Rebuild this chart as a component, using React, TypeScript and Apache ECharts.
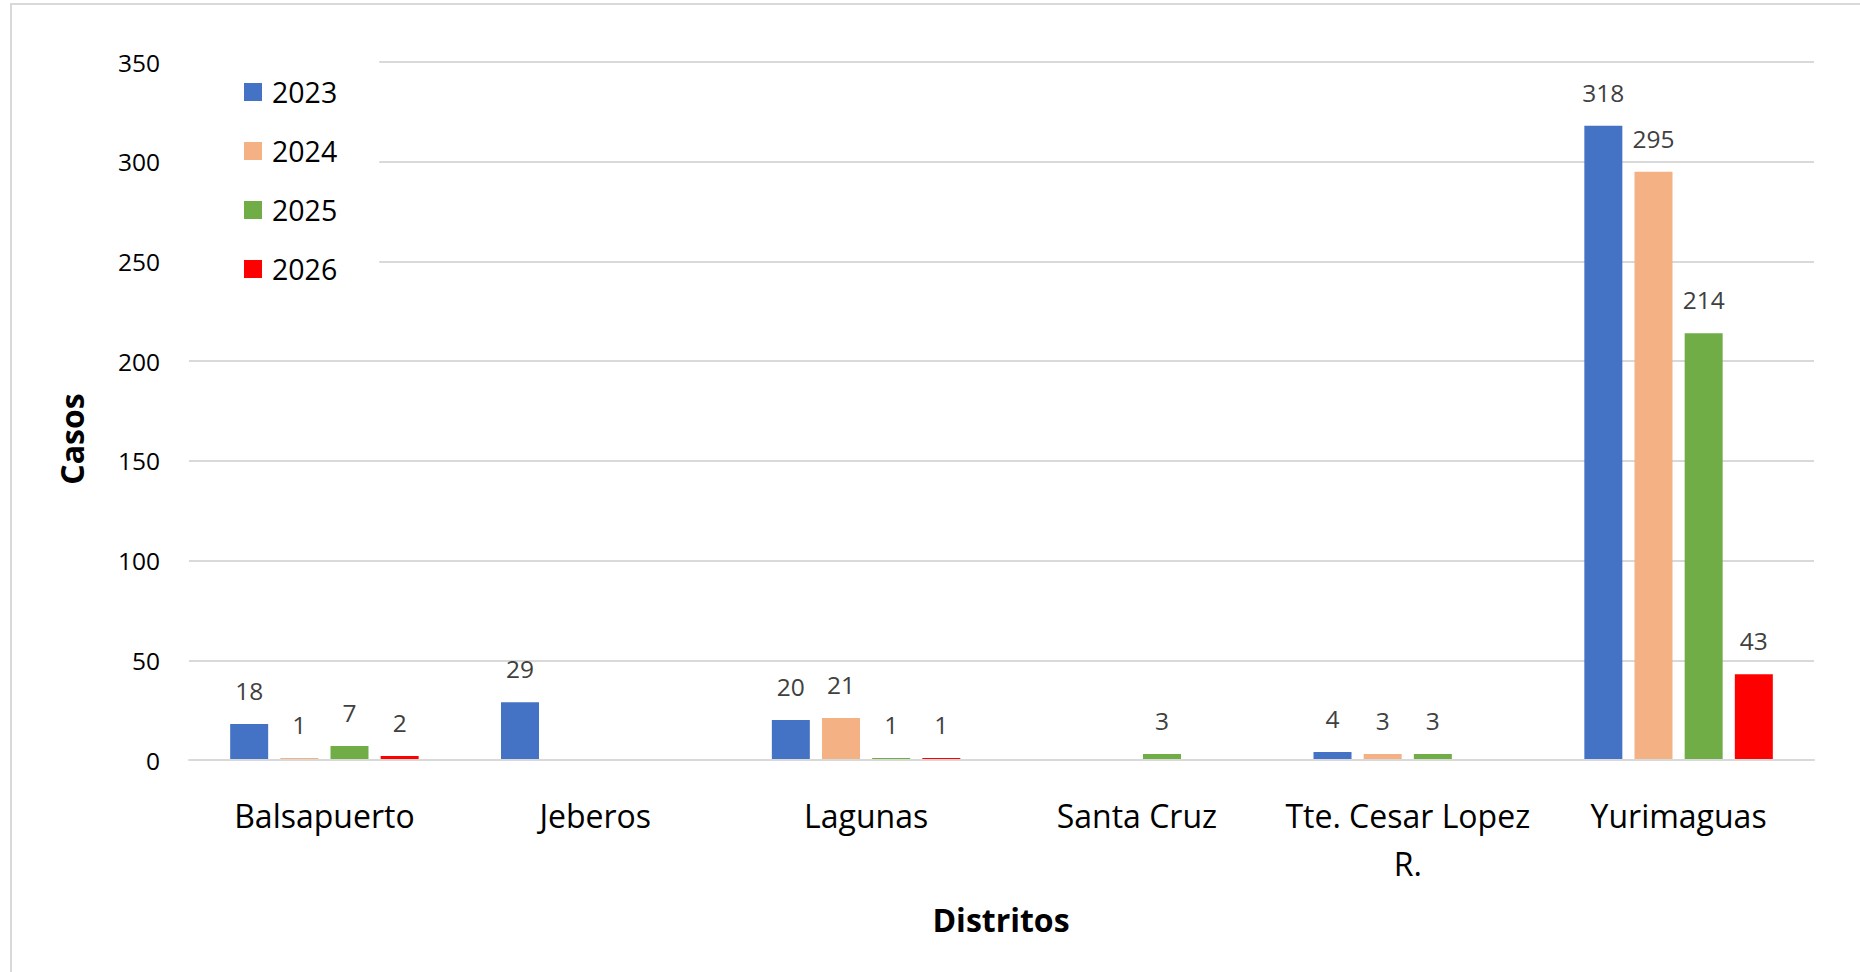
import React, { useEffect, useRef } from "react";
import * as echarts from "echarts";

const categories = ["Balsapuerto", "Jeberos", "Lagunas", "Santa Cruz", "Tte. Cesar Lopez R.", "Yurimaguas"];
const seriesNames = ["2023", "2024", "2025", "2026"];
const values2023 = [18, 29, 20, null, 4, 318];
const values2024 = [1, null, 21, null, 3, 295];
const values2025 = [7, null, 1, 3, 3, 214];
const values2026 = [2, null, 1, null, null, 43];
const colors = ["#4472C4", "#F4B183", "#70AD47", "#FF0000"];
const yTicks = { min: 0, max: 350, interval: 50 };
const xTitle = "Distritos";
const yTitle = "Casos";

const FONT = "'Open Sans', 'Noto Sans', sans-serif";

export default function App() {
  const ref = useRef<HTMLDivElement>(null);
  useEffect(() => {
    if (!ref.current) return;
    const chart = echarts.init(ref.current, null, { renderer: "svg" });
    const data = [values2023, values2024, values2025, values2026];
    chart.setOption({
      animation: false,
      backgroundColor: "#ffffff",
      textStyle: { fontFamily: FONT },
      grid: { left: 189, right: 46, top: 62, bottom: 212, containLabel: false },
      legend: {
        orient: "vertical",
        left: 189,
        top: 52,
        padding: [25, 42, 25, 55],
        backgroundColor: "#ffffff",
        itemWidth: 18,
        itemHeight: 18,
        itemGap: 29,
        icon: "rect",
        data: seriesNames,
        textStyle: { fontFamily: FONT, fontSize: 28.5, lineHeight: 30, color: "#000000", padding: [0, 0, 0, 5] },
      },
      xAxis: {
        type: "category",
        data: categories,
        z: 3,
        axisLine: { show: true, lineStyle: { color: "#d9d9d9", width: 2 } },
        axisTick: { show: false },
        axisLabel: {
          interval: 0,
          margin: 31,
          fontFamily: FONT,
          fontSize: 32,
          lineHeight: 48,
          color: "#000000",
          formatter: (v: string) => (v.length > 15 ? v.replace(/ (\S+)$/, "\n$1") : v),
        },
      },
      yAxis: {
        type: "value",
        min: yTicks.min,
        max: yTicks.max,
        interval: yTicks.interval,
        axisLine: { show: false },
        axisTick: { show: false },
        axisLabel: { margin: 29, fontFamily: FONT, fontSize: 24.5, color: "#000000" },
        splitLine: { lineStyle: { color: "#d9d9d9", width: 2 } },
      },
      series: seriesNames.map((name, i) => ({
        name,
        type: "bar",
        data: data[i],
        barWidth: 38,
        barGap: "32%",
        itemStyle: { color: colors[i] },
        label: {
          show: true,
          position: "top",
          distance: 21,
          fontFamily: FONT,
          fontSize: 24.5,
          color: "#404040",
        },
      })),
      graphic: [
        {
          type: "rect",
          shape: { x: 11, y: 4, width: 1870, height: 990 },
          style: { fill: "none", stroke: "#d9d9d9", lineWidth: 2 },
          silent: true,
          z: 100,
        },
        {
          type: "text",
          x: 71,
          y: 439,
          rotation: Math.PI / 2,
          style: {
            text: yTitle,
            font: `bold 32px ${FONT}`,
            fill: "#000000",
            textAlign: "center",
            textVerticalAlign: "middle",
          },
        },
        {
          type: "text",
          x: 1001,
          y: 919,
          style: {
            text: xTitle,
            font: `bold 32px ${FONT}`,
            fill: "#000000",
            textAlign: "center",
            textVerticalAlign: "middle",
          },
        },
      ],
    });
    return () => chart.dispose();
  }, []);
  return (
    <div
      ref={ref}
      style={{ position: "fixed", left: 0, top: 0, width: 1860, height: 972 }}
    />
  );
}
